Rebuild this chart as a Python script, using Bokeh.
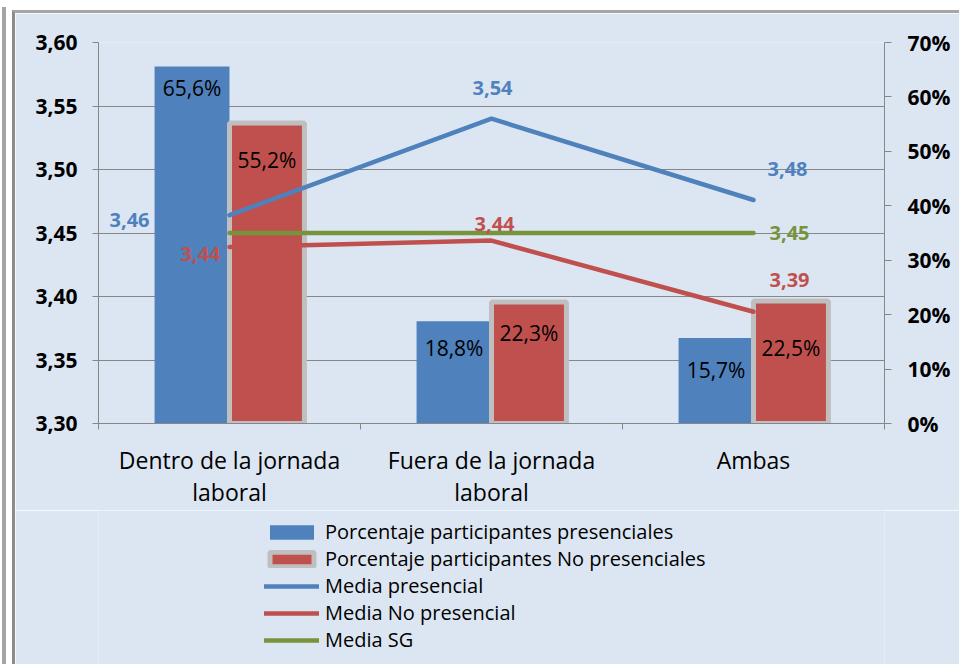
from bokeh.plotting import figure
from bokeh.layouts import column
from bokeh.models import (Range1d, LinearAxis, FixedTicker, CustomJSTickFormatter,
                          Legend, LegendItem, Label, ColumnDataSource)
from bokeh.embed import file_html
from bokeh.resources import INLINE
from bokeh.core.properties import value

# ---------------- data ----------------
categories = ["Dentro de la jornada\nlaboral", "Fuera de la jornada\nlaboral", "Ambas"]
pct_presencial = [65.6, 18.8, 15.7]
pct_no_presencial = [55.2, 22.3, 22.5]
media_presencial = [3.464, 3.540, 3.476]
media_no_presencial = [3.439, 3.444, 3.388]
media_sg = [3.450, 3.450, 3.450]
left_ticks = [3.30, 3.35, 3.40, 3.45, 3.50, 3.55, 3.60]
right_ticks = [0, 10, 20, 30, 40, 50, 60, 70]
series_names = ["Porcentaje participantes presenciales",
                "Porcentaje participantes No presenciales",
                "Media presencial", "Media No presencial", "Media SG"]

# ---------------- styles ----------------
BG = "#dce6f2"
BLUE = "#4f81bd"
RED = "#c0504d"
GREEN = "#77933c"
GRID = "#878787"
FONT = "Open Sans"
BAR_W = 0.286
blue_label_dy = [22, 27, 32]
red_label_dy = [37, 31, 47]
# (dx, dy-up) offsets for line labels
blue_line_off = [(-100, -5), (1, 31), (34, 31)]
red_line_off = [(-29, -7), (3, 17), (36, 32)]
green_line_off = (36, 0)

xc = [i + 0.5 for i in range(len(categories))]

p = figure(frame_width=786, frame_height=381, output_backend="svg", toolbar_location=None,
           x_range=Range1d(0, 3), y_range=Range1d(3.30, 3.60),
           min_border_left=83, min_border_right=75, min_border_top=29, min_border_bottom=82,
           background_fill_color=BG, border_fill_color=BG, outline_line_color=None)
p.extra_y_ranges = {"pct": Range1d(0, 70)}

# axes
p.xaxis.ticker = FixedTicker(ticks=xc, minor_ticks=[0, 1, 2, 3])
p.xaxis.major_label_overrides = {x: c for x, c in zip(xc, categories)}
p.xaxis.major_tick_out = 0
p.xaxis.major_tick_in = 0
p.xaxis.minor_tick_out = 6
p.xaxis.minor_tick_in = 0
p.xaxis.minor_tick_line_color = GRID
p.xaxis.axis_line_color = GRID
p.xaxis.major_label_standoff = 14
p.xaxis.major_label_text_font = FONT
p.xaxis.major_label_text_font_size = "23px"
p.xaxis.major_label_text_line_height = 1.0
p.xaxis.major_label_text_color = "black"

p.yaxis.ticker = FixedTicker(ticks=left_ticks)
p.yaxis.formatter = CustomJSTickFormatter(code="return tick.toFixed(2).replace('.', ',');")
p.yaxis.minor_tick_line_color = None
p.yaxis.major_tick_out = 6
p.yaxis.major_tick_in = 0
p.yaxis.major_tick_line_color = GRID
p.yaxis.axis_line_color = GRID
p.yaxis.major_label_standoff = 15
p.yaxis.major_label_text_font = FONT
p.yaxis.major_label_text_font_style = "bold"
p.yaxis.major_label_text_font_size = "21px"
p.yaxis.major_label_text_color = "black"

ra = LinearAxis(y_range_name="pct", ticker=FixedTicker(ticks=right_ticks),
                formatter=CustomJSTickFormatter(code="return tick.toFixed(0) + '%';"))
ra.minor_tick_line_color = None
ra.major_tick_out = 7
ra.major_tick_in = 0
ra.major_tick_line_color = GRID
ra.axis_line_color = GRID
ra.major_label_standoff = 16
ra.major_label_text_font = FONT
ra.major_label_text_font_style = "bold"
ra.major_label_text_font_size = "21px"
ra.major_label_text_color = "black"
p.add_layout(ra, "right")

p.xgrid.grid_line_color = None
p.ygrid.grid_line_color = GRID
p.ygrid.grid_line_width = 1

# bars
bsrc = ColumnDataSource(dict(x=[x - BAR_W / 2 for x in xc], top=pct_presencial,
                             lab=[f"{v:.1f}".replace(".", ",") + "%" for v in pct_presencial],
                             dy=blue_label_dy))
rsrc = ColumnDataSource(dict(x=[x + BAR_W / 2 for x in xc], top=pct_no_presencial,
                             lab=[f"{v:.1f}".replace(".", ",") + "%" for v in pct_no_presencial],
                             dy=red_label_dy))
bar_blue = dict(fill_color=BLUE, line_color=None)
bar_red = dict(fill_color=RED, line_color="#bfbfbf", line_width=5)
p.vbar(x="x", top="top", bottom=0, width=BAR_W, source=bsrc, y_range_name="pct", **bar_blue)
p.vbar(x="x", top="top", bottom=0, width=BAR_W, source=rsrc, y_range_name="pct", **bar_red)
for src in (bsrc, rsrc):
    p.text(x="x", y="top", text="lab", source=src, y_range_name="pct", y_offset="dy",
           text_align="center", text_baseline="middle", text_color="black",
           text_font=value(FONT), text_font_size="21px")

# lines
line_styles = [dict(line_color=c, line_width=4.5, line_cap="round") for c in (BLUE, RED, GREEN)]
line_series = [media_presencial, media_no_presencial, media_sg]
for vals, st in zip(line_series, line_styles):
    p.line(xc, vals, **st)

def fmt(v):
    return f"{v:.2f}".replace(".", ",")

for vals, offs, col in ((media_presencial, blue_line_off, BLUE),
                        (media_no_presencial, red_line_off, RED)):
    for x, v, (dx, dy) in zip(xc, vals, offs):
        p.add_layout(Label(x=x, y=v, text=fmt(v), x_offset=dx, y_offset=dy,
                           text_align="center", text_baseline="middle", text_color=col,
                           text_font=FONT, text_font_style="bold", text_font_size="20px"))
p.add_layout(Label(x=xc[-1], y=media_sg[-1], text=fmt(media_sg[-1]),
                   x_offset=green_line_off[0], y_offset=green_line_off[1],
                   text_align="center", text_baseline="middle", text_color=GREEN,
                   text_font=FONT, text_font_style="bold", text_font_size="20px"))

# ---------------- legend strip (same series, drawn out of view) ----------------
p2 = figure(width=944, height=159, output_backend="svg", toolbar_location=None,
            x_range=Range1d(0, 3), y_range=Range1d(1000, 1001),
            x_axis_type=None, y_axis_type=None, min_border=0,
            background_fill_color=BG, border_fill_color=BG, outline_line_color=None)
p2.grid.visible = False
lr1 = p2.vbar(x=[x - BAR_W / 2 for x in xc], top=pct_presencial, bottom=0, width=BAR_W, **bar_blue)
lr2 = p2.vbar(x=[x + BAR_W / 2 for x in xc], top=pct_no_presencial, bottom=0, width=BAR_W, **bar_red)
lrl = [p2.line(xc, vals, **st) for vals, st in zip(line_series, line_styles)]

legend = Legend(items=[LegendItem(label=n, renderers=[r]) for n, r in
                       zip(series_names, [lr1, lr2] + lrl)],
                location=(166, 16), orientation="vertical",
                background_fill_alpha=0, border_line_color=None, padding=0, margin=0,
                glyph_width=55, glyph_height=18, label_height=20, spacing=0,
                label_standoff=6, label_text_font=FONT, label_text_font_size="20px",
                label_text_color="black")
p2.add_layout(legend, "center")

layout = column(p, p2, spacing=0)
layout.styles = {"margin-left": "12px", "margin-top": "10px",
                 "border-left": "3px solid #8c8c8c", "border-top": "3px solid #a6a6a6",
                 "box-shadow": "-6px -3px 0 0 white, -10px -3px 0 0 #a5a5a5"}

open("out.html", "w").write(file_html(layout, INLINE))
